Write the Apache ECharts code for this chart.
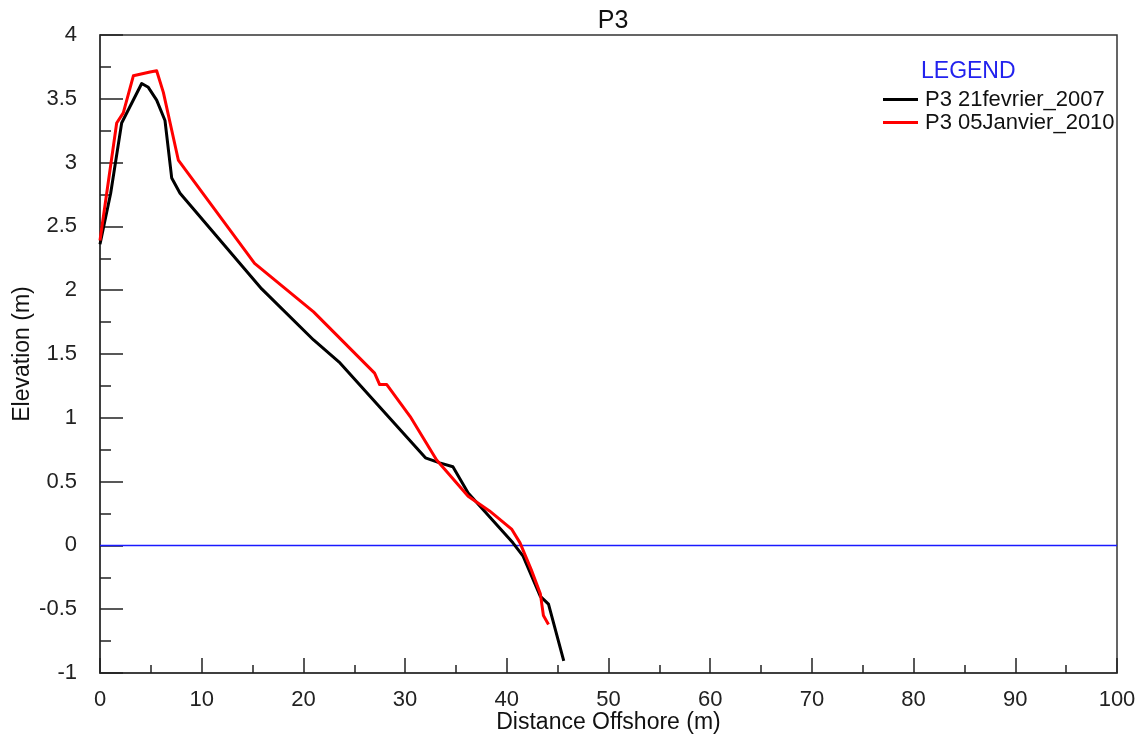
<!DOCTYPE html>
<html>
<head>
<meta charset="utf-8">
<script src="https://cdn.jsdelivr.net/npm/echarts@6/dist/echarts.min.js"></script>
<style>
  html, body { margin: 0; padding: 0; background: #ffffff; }
  #chart { width: 1145px; height: 742px; }
</style>
</head>
<body>
<div id="chart"></div>
<script>
// Beach profile P3: distance offshore (m) vs elevation (m)
const seriesNames = ['P3 21fevrier_2007', 'P3 05Janvier_2010'];

const dist2007 = [0, 1.05, 2.13, 4.1, 4.75, 5.57, 6.39, 7.05, 7.87, 15.9, 21, 23.6, 32.0, 33.4, 34.7, 36.2, 40.6, 41.6, 43.3, 44.1, 45.6];
const elev2007 = [2.36, 2.76, 3.31, 3.62, 3.59, 3.49, 3.33, 2.88, 2.76, 2.01, 1.61, 1.43, 0.686, 0.647, 0.616, 0.41, 0.02, -0.084, -0.40, -0.46, -0.905];

const dist2010 = [0, 1.64, 2.29, 3.28, 4.92, 5.57, 6.23, 7.7, 15.2, 21, 27.0, 27.5, 28.2, 30.5, 33.1, 36.2, 38.3, 40.5, 41.3, 42.4, 43.3, 43.6, 44.1];
const elev2010 = [2.39, 3.31, 3.39, 3.68, 3.71, 3.72, 3.55, 3.02, 2.21, 1.83, 1.35, 1.26, 1.26, 1.01, 0.67, 0.386, 0.27, 0.125, 0.02, -0.19, -0.38, -0.55, -0.62];

// Reference level (elevation 0) across the full distance range
const zeroDist = [0, 100];
const zeroElev = [0, 0];

function pairs(xs, ys) { return xs.map((x, i) => [x, ys[i]]); }

const FONT = 'Liberation Sans, Arial, sans-serif';
const chart = echarts.init(document.getElementById('chart'), null, { renderer: 'canvas' });

chart.setOption({
  backgroundColor: '#ffffff',
  animation: false,
  title: [
    { text: 'P3', left: 608, top: 4, textAlign: 'center',
      textStyle: { fontFamily: FONT, fontSize: 25, fontWeight: 'normal', color: '#111' } },
    { text: 'LEGEND', left: 916, top: 55,
      textStyle: { fontFamily: FONT, fontSize: 23, fontWeight: 'normal', color: '#2222ee' } }
  ],
  legend: {
    data: seriesNames,
    orient: 'vertical',
    left: 878,
    top: 83,
    icon: 'rect',
    itemWidth: 35,
    itemHeight: 3,
    itemGap: 0,
    textStyle: { fontFamily: FONT, fontSize: 22, color: '#111', lineHeight: 23, padding: [0, 0, 0, 2] }
  },
  grid: {
    left: 100, right: 28, top: 35, bottom: 69,
    outerBoundsMode: 'none',
    containLabel: false,
    show: true, borderColor: '#333', borderWidth: 1.5, backgroundColor: 'transparent'
  },
  xAxis: {
    type: 'value', min: 0, max: 100, interval: 10,
    name: 'Distance Offshore (m)', nameLocation: 'middle', nameGap: 38,
    nameMoveOverlap: false,
    nameTextStyle: { fontFamily: FONT, fontSize: 23, color: '#111' },
    axisLine: { show: true, onZero: false, lineStyle: { color: '#333', width: 1.5 } },
    axisTick: { show: true, inside: true, length: 15, lineStyle: { color: '#222', width: 1.5 } },
    minorTick: { show: true, splitNumber: 2, length: 8, lineStyle: { color: '#222', width: 1.5 } },
    axisLabel: { fontFamily: FONT, fontSize: 22, color: '#222', margin: 16 },
    splitLine: { show: false }
  },
  yAxis: {
    type: 'value', min: -1, max: 4, interval: 0.5,
    name: 'Elevation (m)', nameLocation: 'middle', nameGap: 66,
    nameMoveOverlap: false,
    nameTextStyle: { fontFamily: FONT, fontSize: 23, color: '#111' },
    axisLine: { show: true, onZero: false, lineStyle: { color: '#333', width: 1.5 } },
    axisTick: { show: true, inside: true, length: 23, lineStyle: { color: '#222', width: 1.5 } },
    minorTick: { show: true, splitNumber: 2, length: 11, lineStyle: { color: '#222', width: 1.5 } },
    axisLabel: { fontFamily: FONT, fontSize: 22, color: '#222', margin: 23 },
    splitLine: { show: false }
  },
  series: [
    {
      name: 'zero', type: 'line', data: pairs(zeroDist, zeroElev),
      showSymbol: false, silent: true,
      lineStyle: { color: '#1a1aff', width: 1.5 }
    },
    {
      name: seriesNames[0], type: 'line', data: pairs(dist2007, elev2007),
      showSymbol: false, color: '#000000',
      lineStyle: { color: '#000000', width: 3, join: 'round' }
    },
    {
      name: seriesNames[1], type: 'line', data: pairs(dist2010, elev2010),
      showSymbol: false, color: '#ff0000',
      lineStyle: { color: '#ff0000', width: 3, join: 'round' }
    }
  ]
});
</script>
</body>
</html>
